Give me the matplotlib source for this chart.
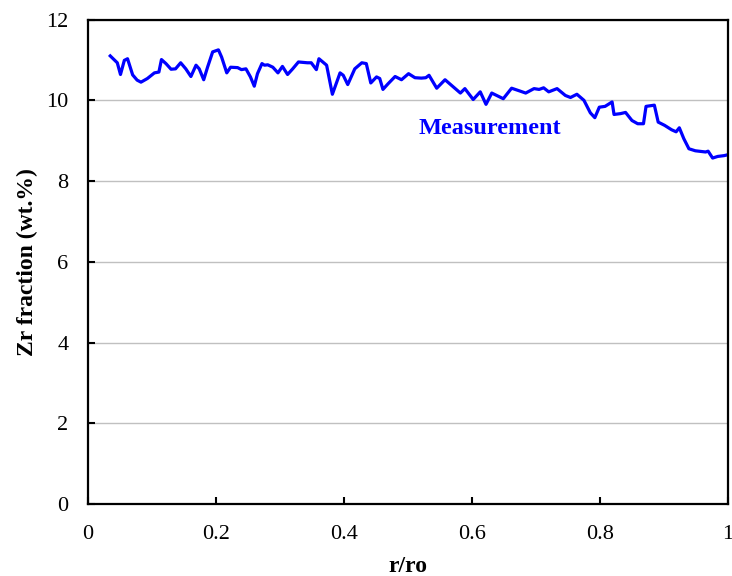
import matplotlib
matplotlib.use("Agg")
import matplotlib.pyplot as plt
import numpy as np

# Radial position (r/ro) and measured Zr fraction (wt.%)
r_ro = [0.035, 0.046, 0.051, 0.057, 0.062, 0.070, 0.077, 0.083, 0.093, 0.104,
        0.111, 0.115, 0.122, 0.130, 0.137, 0.145, 0.153, 0.161, 0.169, 0.174,
        0.181, 0.187, 0.195, 0.204, 0.209, 0.217, 0.223, 0.234, 0.240, 0.247,
        0.254, 0.260, 0.265, 0.272, 0.276, 0.281, 0.289, 0.297, 0.304, 0.312,
        0.320, 0.329, 0.343, 0.349, 0.357, 0.361, 0.373, 0.382, 0.394, 0.399,
        0.406, 0.417, 0.428, 0.435, 0.442, 0.451, 0.456, 0.461, 0.469, 0.480,
        0.490, 0.501, 0.511, 0.521, 0.528, 0.533, 0.545, 0.558, 0.574, 0.582,
        0.589, 0.602, 0.613, 0.622, 0.631, 0.649, 0.662, 0.675, 0.684, 0.697,
        0.705, 0.712, 0.720, 0.733, 0.746, 0.754, 0.764, 0.775, 0.785, 0.792,
        0.799, 0.808, 0.819, 0.822, 0.832, 0.840, 0.850, 0.859, 0.868, 0.872,
        0.885, 0.891, 0.901, 0.912, 0.919, 0.924, 0.931, 0.939, 0.949, 0.965,
        0.969, 0.976, 0.984, 0.994, 1.002]
zr_frac = [11.10, 10.93, 10.64, 10.99, 11.03, 10.63, 10.50, 10.45, 10.54, 10.68,
           10.70, 11.01, 10.91, 10.77, 10.78, 10.93, 10.78, 10.59, 10.87, 10.78,
           10.51, 10.82, 11.20, 11.25, 11.07, 10.68, 10.82, 10.81, 10.76, 10.78,
           10.58, 10.35, 10.66, 10.91, 10.87, 10.88, 10.82, 10.68, 10.84, 10.64,
           10.78, 10.95, 10.93, 10.93, 10.76, 11.03, 10.87, 10.15, 10.68, 10.62,
           10.39, 10.78, 10.93, 10.91, 10.43, 10.58, 10.54, 10.27, 10.41, 10.59,
           10.51, 10.66, 10.56, 10.55, 10.56, 10.62, 10.30, 10.51, 10.29, 10.18,
           10.29, 10.02, 10.21, 9.90, 10.18, 10.04, 10.30, 10.23, 10.18, 10.29,
           10.27, 10.31, 10.21, 10.29, 10.12, 10.07, 10.15, 10.00, 9.69, 9.57,
           9.83, 9.85, 9.96, 9.65, 9.67, 9.70, 9.50, 9.42, 9.42, 9.85,
           9.88, 9.46, 9.38, 9.27, 9.22, 9.32, 9.05, 8.80, 8.75, 8.72,
           8.74, 8.57, 8.61, 8.63, 8.66]

plt.rcParams['font.family'] = ['Liberation Serif', 'DejaVu Serif']

fig = plt.figure(figsize=(7.32, 5.76), dpi=100)
ax = fig.add_axes([0.120, 0.125, 0.8745, 0.841])

ax.plot(r_ro, zr_frac, color='#0000ff', linewidth=2.3)
ax.text(0.628, 9.31, 'Measurement', color='#0000ff', fontsize=17.5,
        fontweight='bold', ha='center', va='center')

ax.set_xlim(0, 1)
ax.set_ylim(0, 12)
ax.set_xticks([0, 0.2, 0.4, 0.6, 0.8, 1])
ax.set_xticklabels(['0', '0.2', '0.4', '0.6', '0.8', '1'])
ax.set_yticks(np.arange(0, 13, 2))
ax.yaxis.grid(True, color='#c0c0c0', linewidth=1.0)
ax.set_axisbelow(True)

ax.tick_params(direction='in', length=5, width=1.5, labelsize=16)
ax.tick_params(axis='x', pad=15)
ax.tick_params(axis='y', pad=14)
for s in ax.spines.values():
    s.set_linewidth(1.6)

ax.set_xlabel('r/ro', fontsize=17, fontweight='bold', labelpad=9)
ax.set_ylabel('Zr fraction (wt.%)', fontsize=17, fontweight='bold', labelpad=6)

fig.savefig('out.png', dpi=100)
